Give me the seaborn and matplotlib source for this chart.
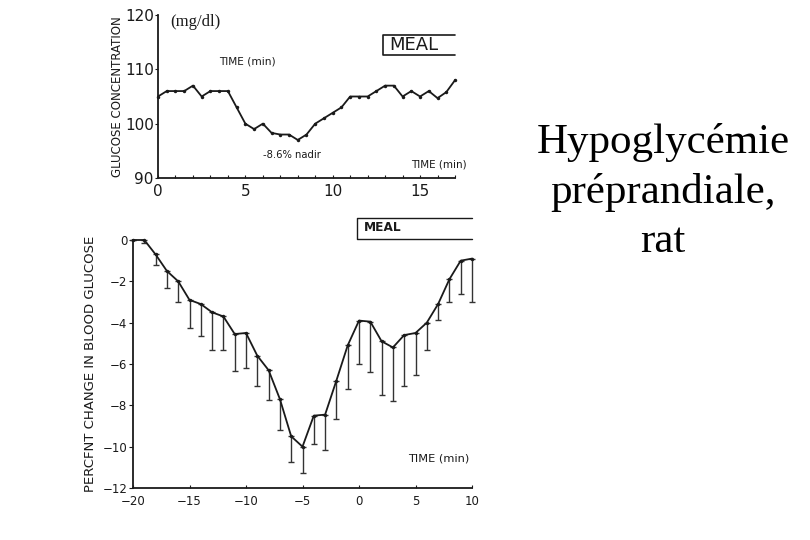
import numpy as np
import pandas as pd
import seaborn as sns
import matplotlib.pyplot as plt

###################
# Data
top_time = [0, 0.5, 1, 1.5, 2, 2.5, 3, 3.5, 4, 4.5, 5, 5.5, 6, 6.5, 7, 7.5, 8, 8.5,
            9, 9.5, 10, 10.5, 11, 11.5, 12, 12.5, 13, 13.5, 14, 14.5, 15, 15.5, 16, 16.5, 17]
top_glucose = [105, 106, 106, 106, 107, 105, 106, 106, 106, 103, 100, 99, 100, 98.3, 98, 98,
               97, 98, 100, 101, 102, 103, 105, 105, 105, 106, 107, 107, 105, 106, 105, 106,
               104.7, 105.8, 108]

bottom_time = list(range(-20, 11))
bottom_change = [0, 0, -0.7, -1.5, -2.0, -2.9, -3.1, -3.5, -3.7, -4.55, -4.5, -5.6, -6.3,
                 -7.7, -9.5, -10.0, -8.5, -8.45, -6.8, -5.1, -3.9, -3.95, -4.9, -5.2,
                 -4.6, -4.5, -4.0, -3.1, -1.9, -1.0, -0.9]
bottom_low = [0, -0.15, -1.2, -2.3, -3.0, -4.25, -4.65, -5.3, -5.3, -6.35, -6.2, -7.05, -7.75,
              -9.2, -10.75, -11.25, -9.85, -10.15, -8.65, -7.2, -6.0, -6.4, -7.5, -7.8,
              -7.05, -6.55, -5.3, -3.85, -3.0, -2.6, -3.0]

###################
# Setup
sns.set_style("ticks")
plt.rcParams['font.family'] = ['DejaVu Sans']
ink = "#1a1a1a"

fig = plt.figure(figsize=(8.1, 5.4), dpi=100)
ax_top = fig.add_axes([158 / 810, 1 - 178 / 540, 297 / 810, 163 / 540])
ax_bot = fig.add_axes([133 / 810, 1 - 488 / 540, 339 / 810, 248 / 540])

###################
# Top panel: glucose concentration
top_df = pd.DataFrame({"Time": top_time, "Glucose": top_glucose})
sns.lineplot(top_df, ax=ax_top, x="Time", y="Glucose", color=ink, linewidth=1.3,
             marker="o", markersize=2.5, markeredgewidth=0, clip_on=False)
ax_top.set_xlim(0, 17)
ax_top.set_ylim(90, 120)
ax_top.set_xticks([0, 5, 10, 15])
ax_top.set_xticks(np.arange(0, 18, 1), minor=True)
ax_top.set_yticks([90, 100, 110, 120])
ax_top.tick_params(axis='x', which='both', direction='in', length=2, width=0.8,
                   labelsize=11, pad=4, colors=ink)
ax_top.tick_params(axis='y', direction='out', length=2, width=0.8, labelsize=11, pad=1, colors=ink)
ax_top.set_xlabel("")
ax_top.set_ylabel("GLUCOSE CONCENTRATION", fontsize=8.5, color=ink, labelpad=0.5)
for s in ["left", "bottom"]:
    ax_top.spines[s].set_linewidth(1.3)
    ax_top.spines[s].set_color(ink)
ax_top.text(0.7, 118.8, "(mg/dl)", family="Liberation Serif", fontsize=12, color=ink, va="center")
ax_top.text(3.5, 111.5, "TIME (min)", fontsize=7.6, color=ink, va="center")
ax_top.text(6.0, 94.2, "-8.6% nadir", fontsize=7.2, color=ink, va="center")
ax_top.text(14.5, 92.5, "TIME (min)", fontsize=7.5, color=ink, va="center")
# MEAL box, open on the right
ax_top.plot([17, 12.9, 12.9, 17], [116.3, 116.3, 112.7, 112.7], color=ink, linewidth=1.2, clip_on=False)
ax_top.text(13.25, 114.5, "MEAL", fontsize=13, color=ink, va="center")

###################
# Bottom panel: percent change with one-sided error bars
bot_df = pd.DataFrame({"Time": bottom_time, "Change": bottom_change})
err_low = np.array(bottom_change) - np.array(bottom_low)
ax_bot.errorbar(bottom_time, bottom_change, yerr=[err_low, np.zeros_like(err_low)], fmt="none",
                ecolor="#333333", elinewidth=1.0, capsize=2.5, capthick=1.0, clip_on=False)
sns.lineplot(bot_df, ax=ax_bot, x="Time", y="Change", color=ink, linewidth=1.3,
             marker="o", markersize=2.5, markeredgewidth=0, clip_on=False)
ax_bot.set_xlim(-20, 10)
ax_bot.set_ylim(-12, 0)
ax_bot.set_xticks([-20, -15, -10, -5, 0, 5, 10])
ax_bot.set_yticks([0, -2, -4, -6, -8, -10, -12])
ax_bot.tick_params(axis='x', direction='in', length=2.5, width=0.8, labelsize=8.5, pad=5, colors=ink)
ax_bot.tick_params(axis='y', direction='out', length=3, width=0.8, labelsize=8.5, pad=1, colors=ink)
ax_bot.set_xlabel("")
ax_bot.set_ylabel("PERCFNT CHANGE IN BLOOD GLUCOSE", fontsize=9.5, color=ink, labelpad=4)
for s in ["left", "bottom"]:
    ax_bot.spines[s].set_linewidth(1.3)
    ax_bot.spines[s].set_color(ink)
ax_bot.text(4.3, -10.55, "TIME (min)", fontsize=8.2, color=ink, va="center")
ax_bot.plot([10, -0.2, -0.2, 10], [1.05, 1.05, 0.05, 0.05], color=ink, linewidth=1.0, clip_on=False)
ax_bot.text(0.45, 0.6, "MEAL", fontsize=8.7, fontweight="bold", color=ink, va="center")

###################
# Side title
fig.text(663 / 810, 1 - 192 / 540, "Hypoglycémie\npréprandiale,\nrat", family="Liberation Serif",
         fontsize=31, ha="center", va="center", linespacing=1.36, color="black")

###################
# Export
sns.despine(fig=fig, top=True, right=True)
fig.savefig("out.png", dpi=100)
